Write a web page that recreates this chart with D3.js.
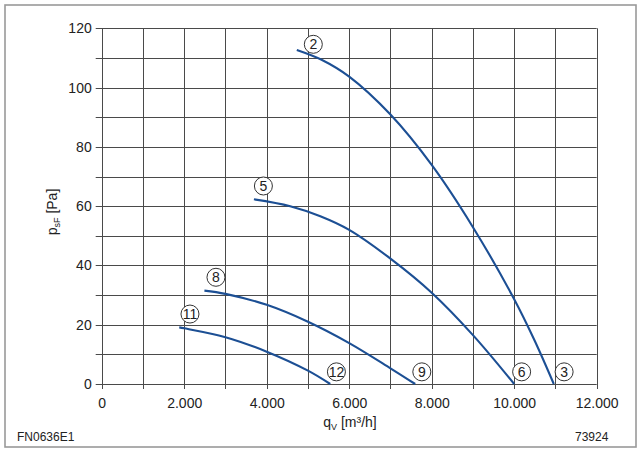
<!DOCTYPE html>
<html>
<head>
<meta charset="utf-8">
<script src="https://cdn.jsdelivr.net/npm/d3@7"></script>
<style>
  html, body { margin: 0; padding: 0; background: #fff; }
  svg { display: block; }
  text { font-family: "Liberation Sans", Arial, Helvetica, sans-serif; fill: #222; }
</style>
</head>
<body>
<svg id="chart" width="640" height="451"></svg>
<script>
// ---- data ----
const xTicks = [0, 2000, 4000, 6000, 8000, 10000, 12000];
const yTicks = [0, 20, 40, 60, 80, 100, 120];
const xTickLabels = ["0", "2.000", "4.000", "6.000", "8.000", "10.000", "12.000"];

const flow2  = [4730, 5330, 6000, 7000, 8000, 9000, 10000, 10500, 10960];
const pres2  = [112.7, 109.4, 103.7, 90.9, 73.9, 52.9, 28.6, 14.5, 0];
const flow5  = [3690, 4570, 5300, 6000, 7000, 8000, 9000, 10000];
const pres5  = [62.3, 60.0, 56.6, 52.0, 42.3, 30.8, 16.5, 0];
const flow8  = [2490, 3000, 4000, 5000, 6000, 7000, 7600];
const pres8  = [31.5, 30.4, 26.7, 21.0, 13.8, 5.3, 0];
const flow11 = [1880, 2000, 3000, 4000, 5000, 5540];
const pres11 = [19.1, 18.8, 15.8, 10.9, 4.5, 0];

const labelText  = ["2", "3", "5", "6", "8", "9", "11", "12"];
const labelFlow  = [5130, 11210, 3920, 10180, 2770, 7760, 2140, 5690];
const labelPres  = [114.6, 4.1, 66.8, 4.1, 36.0, 4.1, 23.6, 4.1];

// ---- layout ----
const svg = d3.select("#chart");
const mLeft = 101.7, mRight = 596.7, mTop = 28.3, mBottom = 384;
const x = d3.scaleLinear().domain([0, 12000]).range([mLeft, mRight]);
const y = d3.scaleLinear().domain([0, 120]).range([mBottom, mTop]);

// outer frame
svg.append("rect").attr("x", 5).attr("y", 5).attr("width", 631).attr("height", 442)
  .attr("fill", "none").attr("stroke", "#999").attr("stroke-width", 1.6);

// grid
const gx = d3.range(0, 12001, 1000), gy = d3.range(0, 121, 10);
const grid = svg.append("g").attr("stroke", "#4a4a4a").attr("stroke-width", 1);
grid.selectAll(".v").data(gx).join("line")
  .attr("x1", d => Math.round(x(d)) + 0.5).attr("x2", d => Math.round(x(d)) + 0.5)
  .attr("y1", y(120)).attr("y2", y(0) + 5);
grid.selectAll(".h").data(gy).join("line")
  .attr("y1", d => Math.round(y(d)) + 0.5).attr("y2", d => Math.round(y(d)) + 0.5)
  .attr("x1", x(0) - 6).attr("x2", x(12000));

// axes labels via d3 axes (grid draws the tick marks)
const xAxis = d3.axisBottom(x).tickValues(xTicks).tickSize(0).tickPadding(14)
  .tickFormat((d, i) => xTickLabels[i]);
const gxA = svg.append("g").attr("transform", `translate(0,${mBottom})`).call(xAxis);
gxA.select(".domain").remove();
gxA.selectAll("text").attr("font-size", 14).attr("fill", "#222")
  .attr("font-family", "Liberation Sans, Arial, sans-serif");

const yAxis = d3.axisLeft(y).tickValues(yTicks).tickSize(0).tickPadding(10);
const gyA = svg.append("g").attr("transform", `translate(${mLeft},0)`).call(yAxis);
gyA.select(".domain").remove();
gyA.selectAll("text").attr("font-size", 14).attr("fill", "#222")
  .attr("font-family", "Liberation Sans, Arial, sans-serif");

// axis titles
const xt = svg.append("text").attr("x", 350).attr("y", 427).attr("text-anchor", "middle")
  .attr("font-size", 14);
xt.append("tspan").text("q");
xt.append("tspan").text("V").attr("font-size", 9).attr("dy", 3);
xt.append("tspan").text(" [m³/h]").attr("dy", -3);

const yt = svg.append("text").attr("transform", "translate(57,212) rotate(-90)")
  .attr("text-anchor", "middle").attr("font-size", 14);
yt.append("tspan").text("p");
yt.append("tspan").text("sF").attr("font-size", 9).attr("dy", 3);
yt.append("tspan").text(" [Pa]").attr("dy", -3);

// corner texts
svg.append("text").attr("x", 17).attr("y", 441).attr("font-size", 12).text("FN0636E1");
svg.append("text").attr("x", 575).attr("y", 441).attr("font-size", 12).text("73924");

// curves
const series = [[flow2, pres2], [flow5, pres5], [flow8, pres8], [flow11, pres11]];
const line = d3.line().x(d => x(d[0])).y(d => y(d[1])).curve(d3.curveCatmullRom.alpha(0.5));
svg.append("g").selectAll("path").data(series).join("path")
  .attr("d", s => line(s[0].map((f, i) => [f, s[1][i]])))
  .attr("fill", "none").attr("stroke", "#1c4f94").attr("stroke-width", 2.1);

// circled labels
const lg = svg.append("g").selectAll("g").data(labelText).join("g")
  .attr("transform", (d, i) => `translate(${x(labelFlow[i])},${y(labelPres[i])})`);
lg.append("circle").attr("r", 9).attr("fill", "#fff").attr("stroke", "#333").attr("stroke-width", 1);
lg.append("text").attr("text-anchor", "middle").attr("dy", "0.36em").attr("font-size", 14)
  .text(d => d);
</script>
</body>
</html>
